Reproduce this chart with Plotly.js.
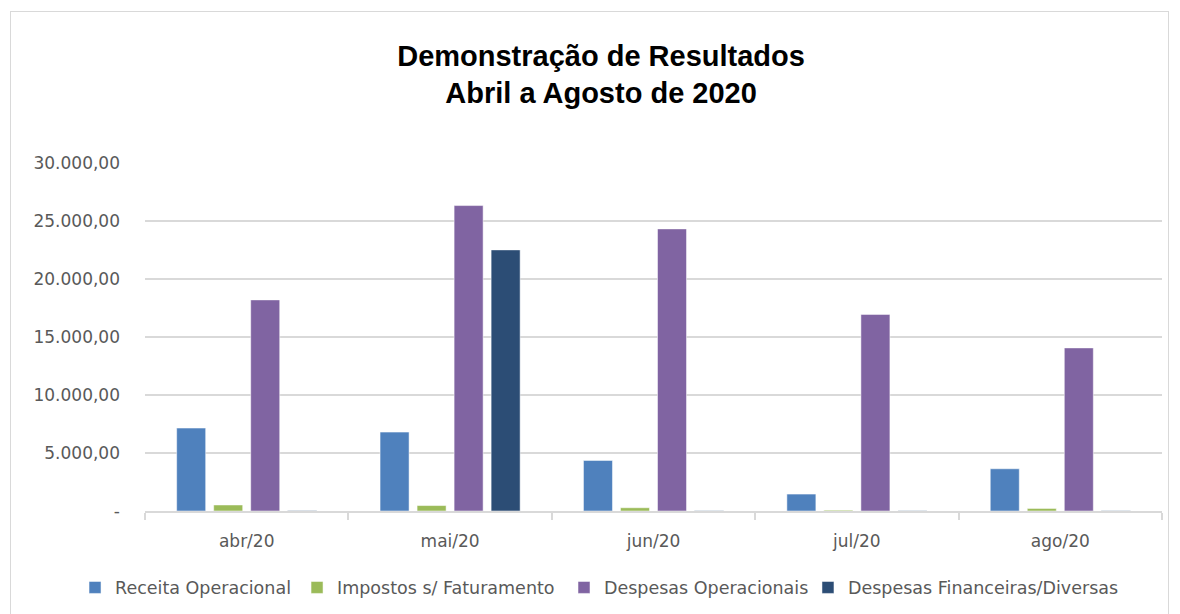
<!DOCTYPE html>
<html>
<head>
<meta charset="utf-8">
<script src="https://cdn.plot.ly/plotly-3.0.1.min.js"></script>
<style>
  html, body { margin: 0; padding: 0; background: #ffffff; }
  #frame { position: absolute; left: 10px; top: 11px; width: 1157px; height: 610px;
           border: 1px solid #d9d9d9; border-bottom: none; background: #fff; }
  #chart { width: 1157px; height: 610px; }
</style>
</head>
<body>
<div id="frame"><div id="chart"></div></div>
<script>
const months = ["abr/20", "mai/20", "jun/20", "jul/20", "ago/20"];
const receitaOperacional = [7150, 6800, 4360, 1460, 3640];
const impostosFaturamento = [520, 470, 280, 70, 220];
const despesasOperacionais = [18200, 26330, 24320, 16950, 14060];
const despesasFinanceiras = [40, 22510, 30, 30, 30];
const yTickVals = [0, 5000, 10000, 15000, 20000, 25000, 30000];
const yTickText = ["-", "5.000,00", "10.000,00", "15.000,00", "20.000,00", "25.000,00", "30.000,00"];

const names = ["Receita Operacional", "Impostos s/ Faturamento", "Despesas Operacionais", "Despesas Financeiras/Diversas"];
const colors = ["#4f81bd", "#9bbb59", "#8064a2", "#2c4d75"];
const series = [receitaOperacional, impostosFaturamento, despesasOperacionais, despesasFinanceiras];
const legendIds = ["legend", "legend2", "legend3", "legend4"];
const legendX = [-0.0688, 0.1495, 0.4120, 0.6519];

const data = series.map((vals, i) => ({
  type: "bar",
  name: names[i],
  x: months,
  y: vals,
  legend: legendIds[i],
  marker: { color: colors[i], line: { color: "rgba(255,255,255,0.5)", width: 1 } },
  hoverinfo: "x+y+name"
}));

const textFont = { family: "DejaVu Sans, sans-serif", size: 17, color: "#595959" };
const legendFont = { family: "DejaVu Sans, sans-serif", size: 17.5, color: "#595959" };

const layout = {
  width: 1157,
  height: 610,
  margin: { l: 134, r: 6, t: 151, b: 111, autoexpand: false },
  paper_bgcolor: "#ffffff",
  plot_bgcolor: "#ffffff",
  barmode: "group",
  bargap: 0.272,
  bargroupgap: 0.216,
  title: {
    text: "Demonstração de Resultados<br>Abril a Agosto de 2020",
    font: { family: "Liberation Sans, Arial, sans-serif", size: 29, color: "#000000", weight: "bold" },
    xref: "container", x: 0.51, xanchor: "center",
    yref: "container", y: 0.912, yanchor: "top"
  },
  xaxis: {
    type: "category",
    showgrid: false,
    showline: true,
    linecolor: "#d9d9d9",
    linewidth: 1.5,
    ticks: "outside",
    tickson: "boundaries",
    ticklen: 7,
    tickcolor: "#d9d9d9",
    tickwidth: 1.5,
    ticklabelstandoff: 14,
    tickangle: 0,
    tickfont: textFont,
    zeroline: false
  },
  yaxis: {
    range: [0, 30000],
    tickvals: yTickVals,
    ticktext: yTickText,
    showgrid: true,
    gridcolor: "#d9d9d9",
    gridwidth: 1.5,
    zeroline: false,
    showline: false,
    ticks: "",
    ticklabelstandoff: 24,
    tickfont: textFont
  },
  showlegend: true
};

legendIds.forEach((id, i) => {
  layout[id] = {
    orientation: "h",
    xref: "paper", x: legendX[i], xanchor: "left",
    yref: "paper", y: -0.22, yanchor: "middle",
    font: legendFont,
    itemwidth: 30,
    bgcolor: "rgba(0,0,0,0)"
  };
});

Plotly.newPlot("chart", data, layout, { displayModeBar: false, responsive: false });
</script>
</body>
</html>
